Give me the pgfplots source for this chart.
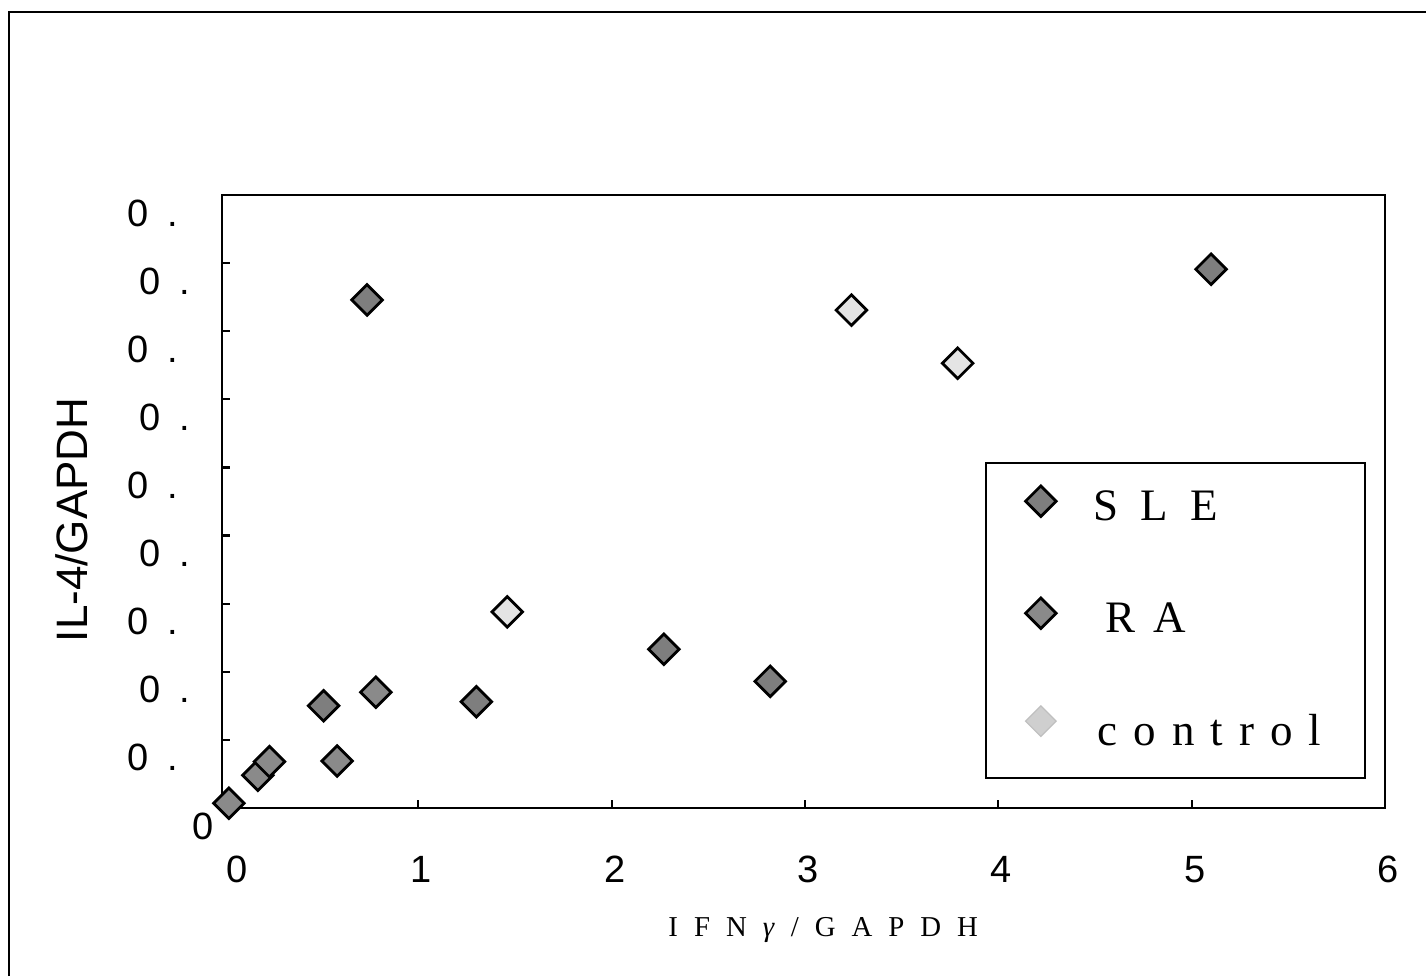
\documentclass[border=0pt]{standalone}
\usepackage{fontspec}
\setmainfont{Liberation Serif}
\newfontfamily\arialf{Liberation Sans}
\usepackage{pgfplots}
\pgfplotsset{compat=1.18}
\definecolor{sle}{HTML}{7E7E7E}
\definecolor{ra}{HTML}{8A8A8A}
\definecolor{ctl}{HTML}{E4E4E4}
\pgfplotsset{
  myleg/.style={legend image code/.code={\path[draw=none,fill=none] (0pt,-23.5pt) rectangle (54pt,22pt); \draw[##1] plot coordinates {(27.5pt,3pt)};}},
  ctlleg/.style={legend image code/.code={\path[draw=none,fill=none] (0pt,-23.5pt) rectangle (54pt,22pt); \draw[##1, mark options={rotate=45, draw=gray!50, fill=gray!38, line width=0.6pt}] plot coordinates {(27.5pt,5pt)};}},
}
\begin{document}
\begin{tikzpicture}
\path[use as bounding box] (-111pt,-84pt) rectangle (602pt,404pt);
\draw[line width=1pt] (-106.5pt,-84pt) -- (-106.5pt,398pt) -- (602pt,398pt);
\begin{axis}[
  at={(0pt,0pt)}, anchor=south west,
  scale only axis, width=581.5pt, height=306.5pt,
  xmin=-0.0155, xmax=6, ymin=0, ymax=0.9,
  clip=false,
  xtick={0,1,2,3,4,5,6},
  xticklabels={\hspace{9pt}0,1,2,3,4,5,6},
  ytick={0,0.1,0.2,0.3,0.4,0.5,0.6,0.7,0.8,0.9},
  yticklabels={{0\hspace{-14pt}\null},{0\hspace{9pt}.\hspace{6pt}\null},{0\hspace{9pt}.},{0\hspace{9pt}.\hspace{6pt}\null},{0\hspace{9pt}.},{0\hspace{9pt}.\hspace{6pt}\null},{0\hspace{9pt}.},{0\hspace{9pt}.\hspace{6pt}\null},{0\hspace{9pt}.},{0\hspace{9pt}.\hspace{6pt}\null}},
  tick pos=left, tick align=inside, major tick length=4pt,
  axis line style={line width=1.3pt},
  tick style={line width=1.1pt, black},
  xticklabel style={font=\arialf\fontsize{19}{22}\selectfont, anchor=north, inner sep=0pt, yshift=-24pt, xshift=1.5pt},
  yticklabel style={font=\arialf\fontsize{19}{22}\selectfont, anchor=east, inner sep=0pt, xshift=-16pt, yshift=-9pt},
  xlabel={I\hspace{8pt}F\hspace{8pt}N\hspace{8pt}\textit{γ}\hspace{8pt}/\hspace{8pt}G\hspace{8pt}A\hspace{8pt}P\hspace{8pt}D\hspace{8pt}H},
  xlabel style={at={(axis description cs:0.517,-0.199)}, anchor=center, font=\fontsize{14.4}{17}\selectfont},
  ylabel={IL-4/GAPDH},
  ylabel style={at={(axis description cs:-0.129,0.47)}, anchor=center, font=\arialf\fontsize{22}{26}\selectfont},
  legend style={at={(axis description cs:0.656,0.564)}, anchor=north west, draw=black, line width=0.9pt,
    inner sep=0pt, row sep=10.5pt, font=\fontsize{22.5}{26}\selectfont, cells={anchor=west}, nodes={inner sep=0pt}},
]
\addplot[only marks, mark=square*, mark size=5.4pt,
  mark options={rotate=45, draw=black, line width=1.4pt, fill=sle}, myleg]
  coordinates {(0.735,0.746) (5.10,0.791) (2.27,0.233) (2.82,0.186) (1.30,0.156) (0.51,0.150)};
\addlegendentry{S\hspace{11pt}L\hspace{11pt}E}
\addplot[only marks, mark=square*, mark size=5.4pt,
  mark options={rotate=45, draw=black, line width=1.4pt, fill=ra}, myleg]
  coordinates {(0.02,0.007) (0.17,0.048) (0.23,0.068) (0.58,0.069) (0.78,0.170)};
\addlegendentry{\hspace{6pt}R\hspace{9pt}A}
\addplot[only marks, mark=square*, mark size=5.4pt,
  mark options={rotate=45, draw=black, line width=1.4pt, fill=ctl}, ctlleg]
  coordinates {(1.46,0.288) (3.24,0.731) (3.79,0.653)};
\addlegendentry{\hspace{2pt}c\hspace{8pt}o\hspace{8pt}n\hspace{8pt}t\hspace{8pt}r\hspace{8pt}o\hspace{8pt}l\hspace{22pt}\null}
\end{axis}
\end{tikzpicture}
\end{document}
